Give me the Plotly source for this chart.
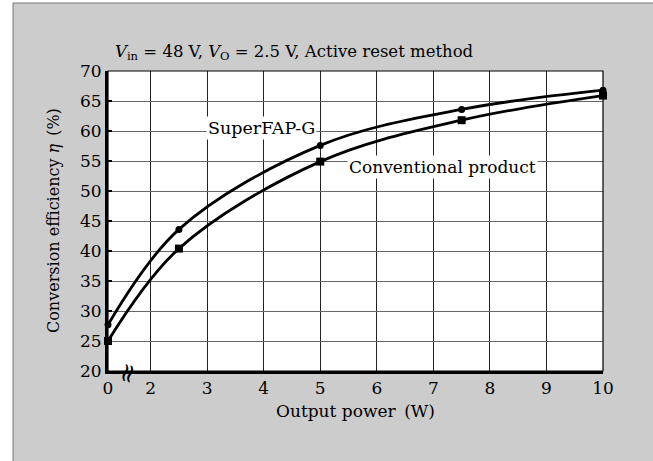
import plotly.graph_objects as go

# data
power_w = [0, 2.5, 5, 7.5, 10]
superfap_g = [27.7, 43.6, 57.6, 63.6, 66.8]
conventional = [25.0, 40.4, 54.9, 61.8, 65.9]

x_ticks = [0, 2, 3, 4, 5, 6, 7, 8, 9, 10]

# broken axis: 0 W is squeezed in just left of 2 W
X0 = 1.246


def xpos(p):
  if p >= 2:
    return p
  return X0 + p * (2 - X0) / 2


FONT = "DejaVu Serif"
L, R, T, B = 108, 50, 71, 90
W, H = 653, 461
pw, ph = W - L - R, H - T - B

fig = go.Figure()

fig.add_trace(go.Scatter(
  x=[xpos(p) for p in power_w], y=superfap_g,
  mode="lines+markers", line={"color": "black", "width": 2.8, "shape": "spline", "smoothing": 1.0},
  marker={"symbol": "circle", "size": 7, "color": "black"},
  name="SuperFAP-G", cliponaxis=False,
))
fig.add_trace(go.Scatter(
  x=[xpos(p) for p in power_w], y=conventional,
  mode="lines+markers", line={"color": "black", "width": 2.8, "shape": "spline", "smoothing": 1.0},
  marker={"symbol": "square", "size": 8, "color": "black"},
  name="Conventional product", cliponaxis=False,
))

# gray panel + white plot area
fig.add_shape(type="rect", xref="paper", yref="paper",
  x0=(13 - L) / pw, x1=1.3, y0=-0.5, y1=(H - B - 3) / ph,
  fillcolor="#cccccc", line={"color": "#777777", "width": 1}, layer="below")
fig.add_shape(type="rect", xref="paper", yref="paper",
  x0=0, x1=1, y0=0, y1=1, fillcolor="white", line={"width": 0}, layer="below")
fig.add_shape(type="rect", xref="paper", yref="paper",
  x0=0, x1=1, y0=0, y1=1, line={"color": "black", "width": 1.2}, layer="above")

fig.add_annotation(
  xref="paper", yref="paper", x=5 / pw, y=1 + 18 / ph, xanchor="left", yanchor="middle",
  text="<i>V</i><sub>in</sub> = 48 V, <i>V</i><sub>O</sub> = 2.5 V, Active reset method",
  showarrow=False, font={"size": 16.5})
fig.add_annotation(
  x=3.96, y=60.5, text="SuperFAP-G", showarrow=False, bgcolor="white",
  borderpad=1, font={"size": 17.5})
fig.add_annotation(
  x=7.17, y=54.05, text="Conventional product", showarrow=False, bgcolor="white",
  borderpad=1, font={"size": 17})
fig.add_annotation(
  xref="paper", yref="paper", x=(53 - L) / pw, y=0.5, textangle=-90,
  xanchor="center", yanchor="middle",
  text="Conversion efficiency <i>η</i>\u2002(%)", showarrow=False, font={"size": 16})
fig.add_annotation(
  xref="paper", yref="paper", x=0.5, y=-(411 - (H - B)) / ph,
  xanchor="center", yanchor="middle",
  text="Output power\u2002(W)", showarrow=False, font={"size": 17})
# axis break mark
fig.add_annotation(
  xref="paper", yref="paper", x=(127 - L) / pw, y=-2 / ph, text="≈", textangle=-75,
  xanchor="center", yanchor="middle",
  showarrow=False, font={"size": 26, "color": "black"})

fig.update_layout(
  width=W, height=H,
  margin={"l": L, "r": R, "t": T, "b": B, "pad": 0},
  paper_bgcolor="white", plot_bgcolor="white",
  showlegend=False,
  font={"family": FONT, "size": 17, "color": "black"},
  xaxis={
    "range": [X0, 10], "tickvals": [xpos(v) for v in x_ticks],
    "ticktext": [str(v) for v in x_ticks],
    "showgrid": True, "gridcolor": "#222222", "gridwidth": 1,
    "showline": True, "linecolor": "black", "linewidth": 3,
    "ticks": "", "zeroline": False, "fixedrange": True,
  },
  yaxis={
    "range": [20, 70], "dtick": 5, "tick0": 20,
    "showgrid": True, "gridcolor": "#666666", "gridwidth": 1,
    "showline": True, "linecolor": "black", "linewidth": 3,
    "ticks": "inside", "ticklen": 4, "tickwidth": 2, "tickcolor": "black",
    "zeroline": False, "fixedrange": True,
  },
)

# page body has an 8px default margin; drop it so the figure sits at 0,0
fig.write_html("out.html", config={"displayModeBar": False},
               post_script="document.body.style.margin='0';")
